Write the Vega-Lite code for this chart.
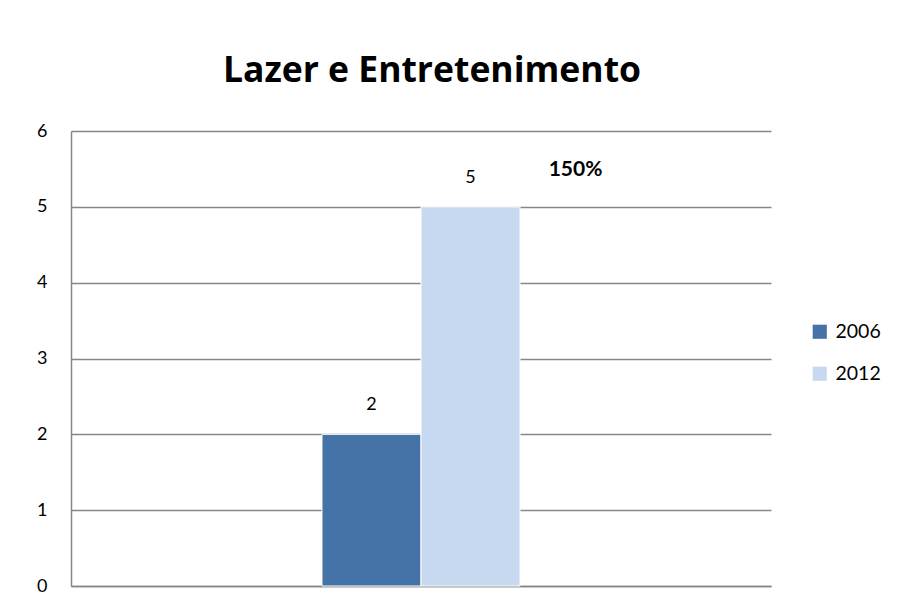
{
  "$schema": "https://vega.github.io/schema/vega-lite/v6.json",
  "autosize": {"type": "none"},
  "width": 700,
  "height": 455,
  "padding": {"left": 71, "top": 131, "right": 126, "bottom": 24},
  "background": "white",
  "config": {
    "font": "Lato",
    "view": {"stroke": null}
  },
  "title": {
    "text": "Lazer e Entretenimento",
    "fontSize": 35.5,
    "font": "Open Sans",
    "fontWeight": "bold",
    "color": "#000000",
    "anchor": "middle",
    "baseline": "alphabetic",
    "offset": 5,
    "dx": 11
  },
  "data": {
    "values": [
      {"category": "Lazer e Entretenimento", "year": "2006", "value": 2},
      {"category": "Lazer e Entretenimento", "year": "2012", "value": 5}
    ]
  },
  "encoding": {
    "x": {
      "field": "category",
      "type": "nominal",
      "scale": {"paddingInner": 0.211, "paddingOuter": 1},
      "axis": {"labels": false, "ticks": false, "title": null, "domainColor": "#868686", "domainWidth": 1.5}
    },
    "xOffset": {"field": "year", "type": "nominal", "scale": {"domain": ["2006", "2012"], "paddingInner": 0, "paddingOuter": 0}},
    "y": {
      "field": "value",
      "type": "quantitative",
      "scale": {"domain": [0, 6], "nice": false},
      "axis": {
        "values": [0, 1, 2, 3, 4, 5, 6],
        "format": "d",
        "title": null,
        "ticks": false,
        "labelPadding": 24,
        "labelFontSize": 18,
        "labelColor": "#000000",
        "labelFont": "Lato",
        "domainColor": "#868686",
        "domainWidth": 1.5,
        "gridColor": "#868686",
        "gridWidth": 1.5
      }
    }
  },
  "layer": [
    {
      "mark": {"type": "bar", "stroke": "white", "strokeWidth": 1},
      "encoding": {
        "color": {
          "field": "year",
          "type": "nominal",
          "scale": {"domain": ["2006", "2012"], "range": ["#4572a7", "#c6d9f0"]},
          "legend": {
            "title": null,
            "orient": "none",
            "legendX": 739,
            "legendY": 191,
            "symbolType": "square",
            "symbolSize": 200,
            "symbolStrokeWidth": 0,
            "labelFontSize": 19.5,
            "labelFont": "Lato",
            "labelColor": "#000000",
            "labelOffset": 6,
            "rowPadding": 21
          }
        }
      }
    },
    {
      "mark": {"type": "text", "fontSize": 18, "baseline": "middle", "dy": -29, "color": "#000000"},
      "encoding": {
        "text": {"field": "value", "type": "quantitative"}
      }
    },
    {
      "data": {"values": [{"category": "Lazer e Entretenimento", "year": "2012", "value": 5, "label": "150%"}]},
      "mark": {"type": "text", "fontSize": 21, "fontWeight": "bold", "baseline": "middle", "dx": 105, "dy": -37, "color": "#000000"},
      "encoding": {
        "text": {"field": "label"}
      }
    }
  ]
}
